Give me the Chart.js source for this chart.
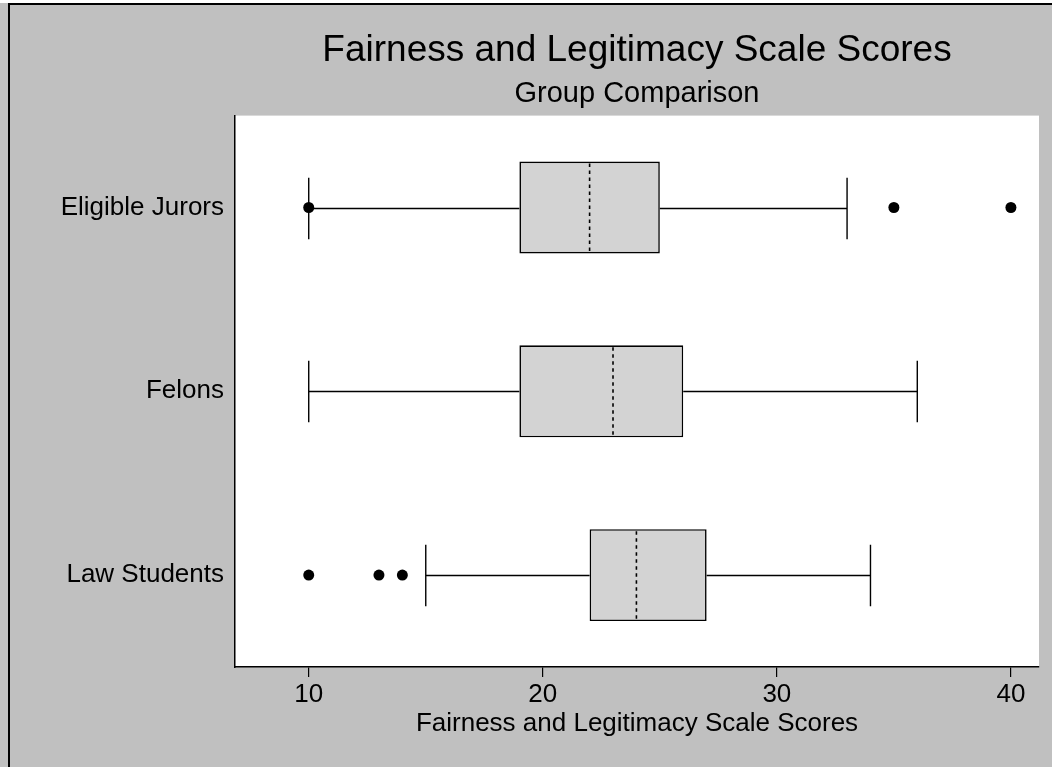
<!DOCTYPE html>
<html>
<head>
<meta charset="utf-8">
<script src="https://cdn.jsdelivr.net/npm/chart.js@4.4.1/dist/chart.umd.min.js"></script>
<style>
html,body{margin:0;padding:0;background:#c0c0c0;}
canvas{display:block;}
</style>
</head>
<body>
<canvas id="c" width="1052" height="767"></canvas>
<script>
const categories = ['Eligible Jurors', 'Felons', 'Law Students'];
const whiskerLow = [10, 10, 15];
const q1 = [19, 19, 22];
const medians = [22, 23, 24];
const q3 = [25, 26, 27];
const whiskerHigh = [33, 36, 34];
const outliersJurors = [10, 35, 40];
const outliersFelons = [];
const outliersStudents = [10, 13, 14];
const xTicks = [10, 20, 30, 40];

const outlierPoints = [];
[outliersJurors, outliersFelons, outliersStudents].forEach((arr, i) => {
  arr.forEach(v => outlierPoints.push({x: v, y: categories[i]}));
});

const FONT = "'Liberation Sans', Arial, Helvetica, sans-serif";

const backgroundPlugin = {
  id: 'bg',
  beforeDraw(chart) {
    const ctx = chart.ctx, a = chart.chartArea;
    ctx.save();
    ctx.fillStyle = '#c0c0c0';
    ctx.fillRect(0, 0, chart.width, chart.height);
    ctx.fillStyle = '#ffffff';
    ctx.fillRect(0, 0, chart.width, 3);
    ctx.fillStyle = '#000000';
    ctx.fillRect(8, 3, chart.width - 8, 2);
    ctx.fillRect(8, 3, 2, chart.height - 3);
    ctx.fillStyle = '#ffffff';
    ctx.fillRect(a.left, a.top, a.right - a.left, a.bottom - a.top);
    ctx.restore();
  }
};

const boxPlugin = {
  id: 'boxparts',
  afterDatasetDraw(chart, args) {
    if (args.index !== 0) return;
    const ctx = chart.ctx, xs = chart.scales.x;
    const meta = chart.getDatasetMeta(0);
    ctx.save();
    ctx.strokeStyle = '#000';
    meta.data.forEach((el, i) => {
      const y = Math.round(el.y) + 0.5;
      const h = el.height;
      const xl = xs.getPixelForValue(whiskerLow[i]);
      const xq1 = xs.getPixelForValue(q1[i]);
      const xq3 = xs.getPixelForValue(q3[i]);
      const xh = xs.getPixelForValue(whiskerHigh[i]);
      const xm = xs.getPixelForValue(medians[i]);
      ctx.lineWidth = 1.4;
      ctx.setLineDash([]);
      ctx.beginPath();
      ctx.moveTo(xl, y); ctx.lineTo(xq1, y);
      ctx.moveTo(xq3, y); ctx.lineTo(xh, y);
      const cap = h / 3;
      ctx.moveTo(xl, y - cap); ctx.lineTo(xl, y + cap);
      ctx.moveTo(xh, y - cap); ctx.lineTo(xh, y + cap);
      ctx.stroke();
      ctx.lineWidth = 1.6;
      ctx.setLineDash([3.5, 3.5]);
      ctx.beginPath();
      ctx.moveTo(xm, el.y - h / 2 + 2);
      ctx.lineTo(xm, el.y + h / 2 - 1);
      ctx.stroke();
    });
    ctx.restore();
  }
};

new Chart(document.getElementById('c'), {
  data: {
    labels: categories,
    datasets: [
      {
        type: 'bar',
        data: categories.map((c, i) => [q1[i], q3[i]]),
        backgroundColor: '#d3d3d3',
        borderColor: '#000',
        borderWidth: 1.6,
        borderSkipped: false,
        barPercentage: 0.5,
        categoryPercentage: 1.0
      },
      {
        type: 'scatter',
        data: outlierPoints,
        pointRadius: 5.5,
        pointBackgroundColor: '#000',
        pointBorderColor: '#000',
        pointBorderWidth: 0,
        showLine: false
      }
    ]
  },
  options: {
    indexAxis: 'y',
    responsive: false,
    animation: false,
    devicePixelRatio: 1,
    layout: {padding: {left: 0, right: 13, top: 0, bottom: 0}},
    plugins: {
      legend: {display: false},
      tooltip: {enabled: false},
      title: {
        display: true,
        text: 'Fairness and Legitimacy Scale Scores',
        fullSize: false,
        color: '#000',
        font: {family: FONT, size: 37, weight: 'normal', lineHeight: 1.2},
        padding: {top: 29, bottom: 3}
      },
      subtitle: {
        display: true,
        text: 'Group Comparison',
        fullSize: false,
        color: '#000',
        font: {family: FONT, size: 29, weight: 'normal', lineHeight: 1.2},
        padding: {top: 0, bottom: 4.4}
      }
    },
    scales: {
      x: {
        type: 'linear',
        min: 6.85,
        max: 41.2,
        afterBuildTicks(scale) { scale.ticks = xTicks.map(v => ({value: v})); },
        afterFit(scale) { scale.height = 100; },
        grid: {drawOnChartArea: false, drawTicks: true, tickLength: 10, color: '#000', lineWidth: 1.2},
        border: {display: true, color: '#000', width: 1.5},
        ticks: {color: '#000', font: {family: FONT, size: 26}, padding: 2, maxRotation: 0},
        title: {
          display: true,
          text: 'Fairness and Legitimacy Scale Scores',
          color: '#000',
          font: {family: FONT, size: 26},
          padding: {top: 0, bottom: 28}
        }
      },
      y: {
        type: 'category',
        offset: true,
        afterFit(scale) { scale.width = 235; },
        grid: {drawOnChartArea: false, drawTicks: false},
        border: {display: true, color: '#000', width: 1.5},
        ticks: {color: '#000', font: {family: FONT, size: 26}, padding: 11}
      }
    }
  },
  plugins: [backgroundPlugin, boxPlugin]
});
</script>
</body>
</html>
